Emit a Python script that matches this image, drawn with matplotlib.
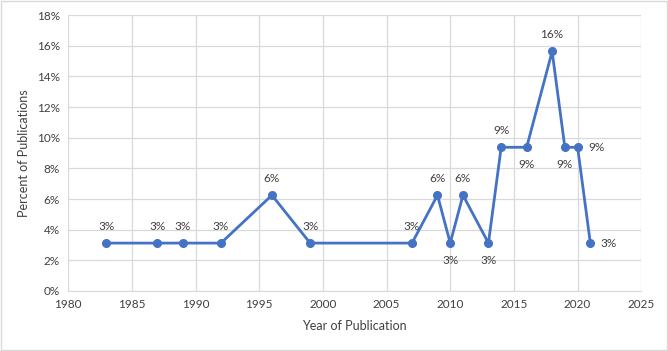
import matplotlib
matplotlib.use("Agg")
import matplotlib.pyplot as plt
from matplotlib.ticker import FuncFormatter, MultipleLocator

years = [1983, 1987, 1989, 1992, 1996, 1999, 2007, 2009, 2010, 2011,
         2013, 2014, 2016, 2018, 2019, 2020, 2021]
counts = [1, 1, 1, 1, 2, 1, 1, 2, 1, 2, 1, 3, 3, 5, 3, 3, 1]
total = 32
percents = [c / total * 100 for c in counts]
# where each data label sits relative to its point
label_pos = ["above", "above", "above", "above", "above", "above", "above",
             "above", "below", "above", "below", "above", "below", "above",
             "below", "right", "right"]

plt.rcParams["font.family"] = ["Lato", "DejaVu Sans"]
text_color = "#404040"
grid_color = "#D9D9D9"
line_color = "#4472C4"

fig = plt.figure(figsize=(6.68, 3.51), dpi=100)
ax = fig.add_axes([0.102, 0.171, 0.858, 0.786])

ax.plot(years, percents, color=line_color, linewidth=2, marker="o",
        markersize=5.5, zorder=3)

offsets = {"above": (0, 12, "center", "center"),
           "below": (0, -12.5, "center", "center"),
           "right": (7.5, 0, "left", "center")}
for x, y, pos in zip(years, percents, label_pos):
    dx, dy, ha, va = offsets[pos]
    ax.annotate(f"{y:.0f}%", (x, y), xytext=(dx, dy), textcoords="offset points",
                ha=ha, va=va, fontsize=8.5, color=text_color)

ax.set_xlim(1980, 2025)
ax.set_ylim(0, 18)
ax.xaxis.set_major_locator(MultipleLocator(5))
ax.yaxis.set_major_locator(MultipleLocator(2))
ax.yaxis.set_major_formatter(FuncFormatter(lambda v, _: f"{v:.0f}%"))
ax.grid(True, color=grid_color, linewidth=0.9)
ax.set_axisbelow(True)
for side in ["top", "right", "left"]:
    ax.spines[side].set_visible(False)
ax.spines["bottom"].set_color(grid_color)
ax.tick_params(length=0, labelsize=8.5, colors=text_color, pad=6)
ax.set_xlabel("Year of Publication", fontsize=9, color=text_color, labelpad=7)
ax.set_ylabel("Percent of Publications", fontsize=9, color=text_color, labelpad=5)

fig.patches.append(plt.Rectangle((0.001, 0.002), 0.997, 0.995, transform=fig.transFigure,
                                 fill=False, edgecolor="#D9D9D9", linewidth=1))
fig.savefig("out.png", dpi=100)
